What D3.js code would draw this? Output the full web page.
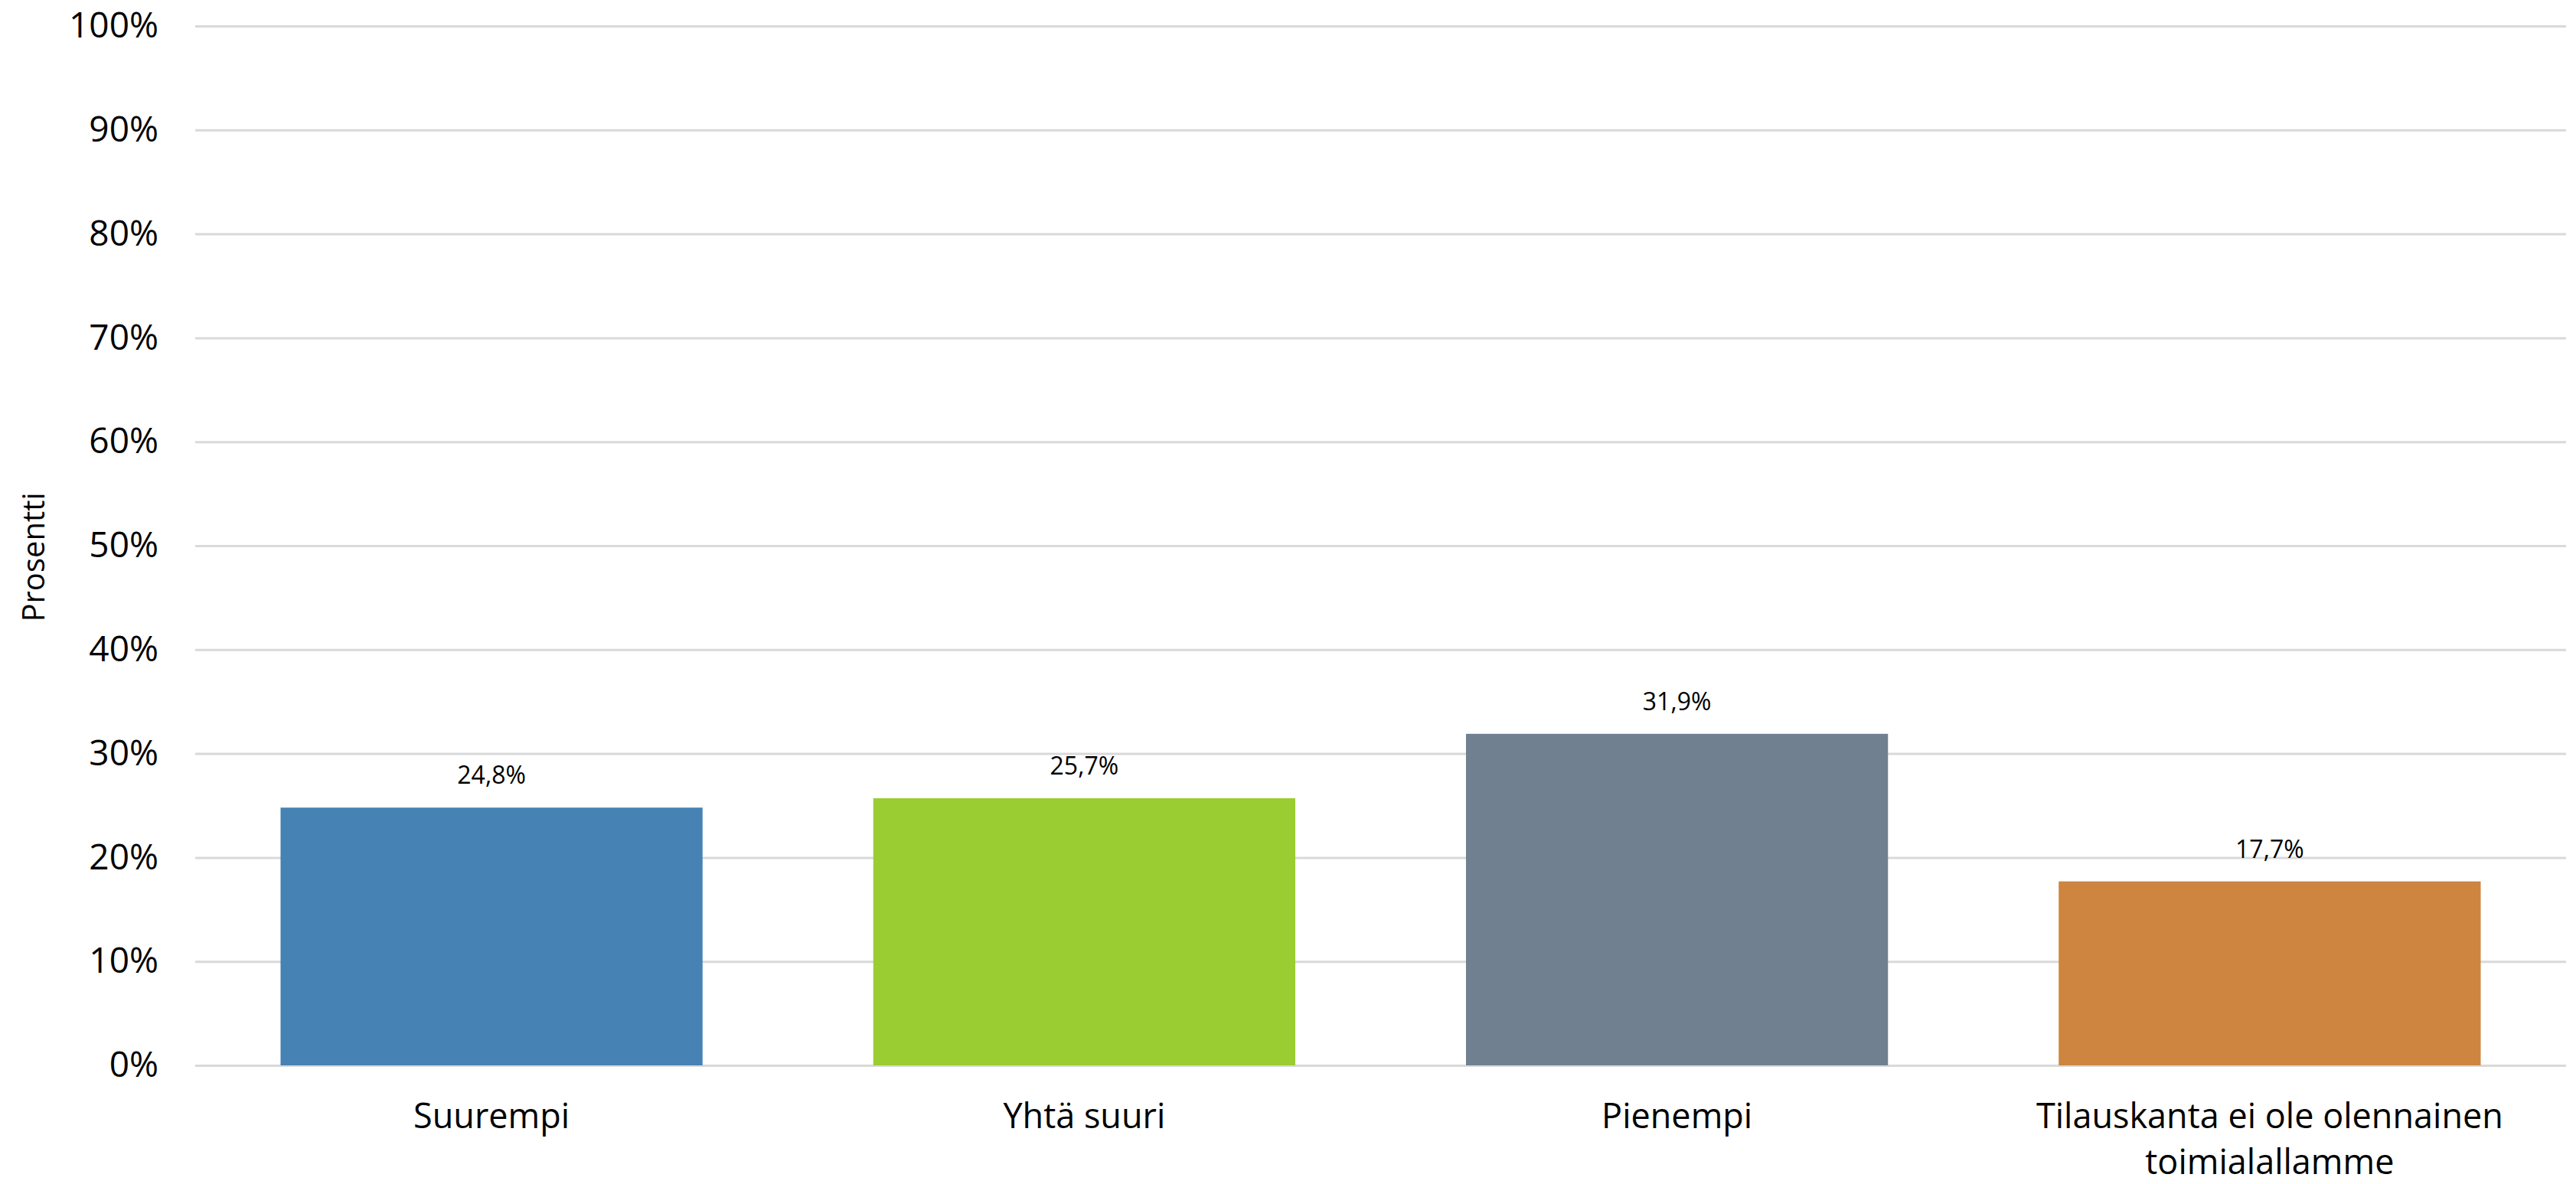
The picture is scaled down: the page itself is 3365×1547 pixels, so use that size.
<!DOCTYPE html>
<html>
<head>
<meta charset="utf-8">
<script src="https://cdn.jsdelivr.net/npm/d3@7"></script>
<style>
  html, body { margin: 0; padding: 0; background: #fff; }
  svg { display: block; }
  text { font-family: "Open Sans", "Liberation Sans", sans-serif; fill: #000; }
</style>
</head>
<body>
<svg id="chart" width="3365" height="1547"></svg>
<script>
const categories = ["Suurempi", "Yhtä suuri", "Pienempi", "Tilauskanta ei ole olennainen toimialallamme"];
const categoryLines = [["Suurempi"], ["Yhtä suuri"], ["Pienempi"], ["Tilauskanta ei ole olennainen", "toimialallamme"]];
const values = [24.8, 25.7, 31.9, 17.7];
const valueLabels = ["24,8%", "25,7%", "31,9%", "17,7%"];
const colors = ["#4682B4", "#9ACD32", "#708090", "#CD853F"];
const yTicks = [0, 10, 20, 30, 40, 50, 60, 70, 80, 90, 100];
const yTickLabels = ["0%", "10%", "20%", "30%", "40%", "50%", "60%", "70%", "80%", "90%", "100%"];
const yTitle = "Prosentti";

const svg = d3.select("#chart");
const plotLeft = 255, plotRight = 3352, plotTop = 34, plotBottom = 1392;

const x = d3.scaleBand().domain(categories).range([plotLeft, plotRight]).paddingInner(0.288).paddingOuter(0.144);
const y = d3.scaleLinear().domain([0, 100]).range([plotBottom, plotTop]);

// gridlines
const grid = svg.append("g").attr("transform", `translate(${plotLeft},0)`)
  .call(d3.axisLeft(y).tickValues(yTicks).tickSize(-(plotRight - plotLeft)).tickFormat(""));
grid.select(".domain").remove();
grid.selectAll(".tick line").attr("stroke", "#d9d9d9").attr("stroke-width", 3);

// y tick labels
const yAxis = svg.append("g").attr("transform", `translate(207,0)`)
  .call(d3.axisLeft(y).tickValues(yTicks).tickSize(0).tickPadding(0).tickFormat((d, i) => yTickLabels[i]));
yAxis.select(".domain").remove();
yAxis.selectAll(".tick text")
  .attr("font-size", 46).attr("font-family", "'Open Sans', sans-serif")
  .attr("fill", "#000").attr("dy", "0.32em").attr("x", 0).attr("text-anchor", "end");

// bars
svg.append("g").selectAll("rect").data(categories).join("rect")
  .attr("x", d => x(d))
  .attr("width", x.bandwidth())
  .attr("y", (d, i) => y(values[i]))
  .attr("height", (d, i) => y(0) - y(values[i]))
  .attr("fill", (d, i) => colors[i]);

// value labels
svg.append("g").selectAll("text").data(categories).join("text")
  .attr("x", d => x(d) + x.bandwidth() / 2)
  .attr("y", (d, i) => y(values[i]) - 31)
  .attr("text-anchor", "middle")
  .attr("font-size", 32)
  .text((d, i) => valueLabels[i]);

// category labels
const cat = svg.append("g").selectAll("text").data(categories).join("text")
  .attr("x", d => x(d) + x.bandwidth() / 2)
  .attr("y", 1474)
  .attr("text-anchor", "middle")
  .attr("font-size", 45);
cat.each(function(d, i) {
  const t = d3.select(this);
  categoryLines[i].forEach((line, j) => {
    t.append("tspan").attr("x", x(d) + x.bandwidth() / 2).attr("dy", j === 0 ? 0 : 60).text(line);
  });
});

// y title
svg.append("text")
  .attr("transform", "translate(58,728) rotate(-90)")
  .attr("text-anchor", "middle")
  .attr("font-size", 40)
  .text(yTitle);
</script>
</body>
</html>
